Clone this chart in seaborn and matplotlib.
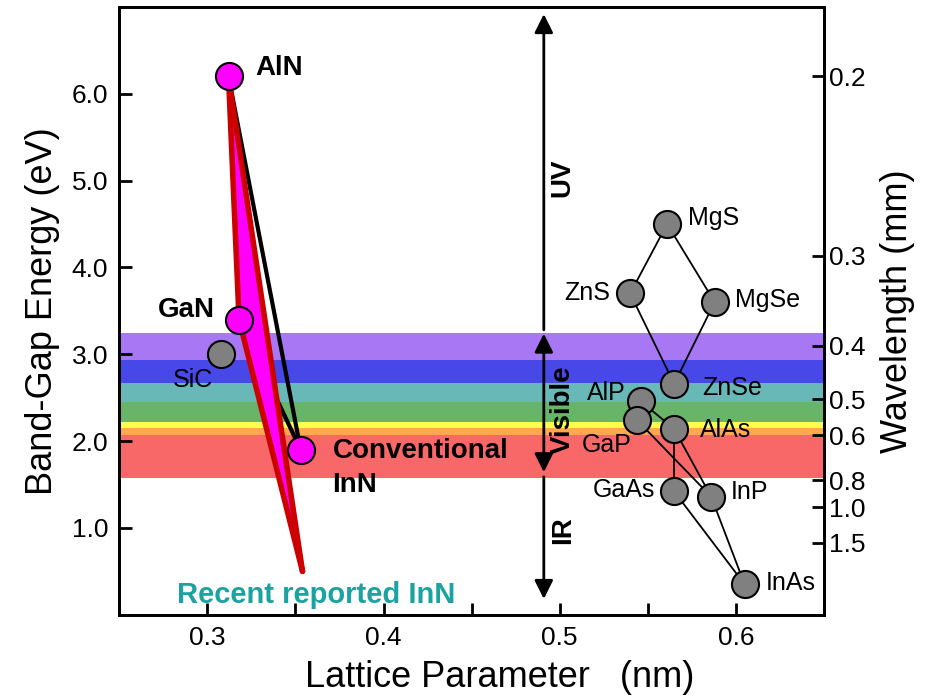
import numpy as np
import pandas as pd
import matplotlib
matplotlib.use("Agg")
import matplotlib.pyplot as plt
import seaborn as sns

sns.set_style("ticks")
plt.rcParams['font.family'] = ['Liberation Sans', 'DejaVu Sans']
plt.rcParams.update({"text.color": "black", "axes.labelcolor": "black",
                     "xtick.color": "black", "ytick.color": "black",
                     "axes.edgecolor": "black"})

# compounds: lattice parameter (nm) and band gap (eV)
names = ["AlN", "GaN", "InN", "SiC", "MgS", "ZnS", "MgSe", "ZnSe",
         "AlP", "GaP", "AlAs", "GaAs", "InP", "InAs"]
lattice = [0.312, 0.318, 0.353, 0.308, 0.561, 0.540, 0.588, 0.565,
           0.546, 0.544, 0.565, 0.565, 0.586, 0.605]
gap = [6.2, 3.4, 1.9, 3.0, 4.5, 3.7, 3.6, 2.66,
       2.46, 2.24, 2.14, 1.42, 1.36, 0.35]
nitrides = ["AlN", "GaN", "InN"]

# recently reported InN
inn_recent_a = 0.354
inn_recent_eg = 0.5

# alloy tie lines
black_thick = [("AlN", "InN"), ("GaN", "InN")]
thin_edges = [("MgS", "ZnS"), ("MgS", "MgSe"), ("ZnS", "ZnSe"), ("MgSe", "ZnSe"),
              ("AlP", "AlAs"), ("GaP", "InP"), ("AlAs", "InP"), ("AlAs", "GaAs"),
              ("GaAs", "InAs"), ("InP", "InAs")]

# visible spectrum bands (eV)
band_lo = [1.57, 2.07, 2.15, 2.22, 2.45, 2.67, 2.93]
band_hi = [2.07, 2.15, 2.22, 2.45, 2.67, 2.93, 3.25]
band_col = ["#f86868", "#ffa850", "#ffff50", "#68b468", "#68b8b8", "#4848e8", "#a878f4"]

# right axis wavelength ticks (um)
wl_ticks = [0.2, 0.3, 0.4, 0.5, 0.6, 0.8, 1.0, 1.5]

pts = pd.DataFrame({"name": names, "a": lattice, "eg": gap})
pos = {n: (a, e) for n, a, e in zip(names, lattice, gap)}
pos["InN*"] = (inn_recent_a, inn_recent_eg)


def edge_frame(edges):
    rows = []
    for i, (p, q) in enumerate(edges):
        for n in (p, q):
            rows.append({"seg": i, "a": pos[n][0], "eg": pos[n][1]})
    return pd.DataFrame(rows)


fig, ax = plt.subplots(figsize=(9.32, 6.97), dpi=100)
fig.subplots_adjust(left=0.128, right=0.884, top=0.99, bottom=0.118)

for lo, hi, c in zip(band_lo, band_hi, band_col):
    ax.axhspan(lo, hi, color=c, lw=0, zorder=0)

sns.lineplot(data=edge_frame(black_thick), x="a", y="eg", units="seg", estimator=None,
             sort=False, color="black", lw=3, ax=ax, zorder=2)
tri = [pos["AlN"], pos["GaN"], pos["InN*"]]
ax.fill([p[0] for p in tri], [p[1] for p in tri], color="#ff00ff", lw=0, zorder=3)
sns.lineplot(data=edge_frame([("AlN", "GaN"), ("AlN", "InN*"), ("GaN", "InN*")]),
             x="a", y="eg", units="seg", estimator=None, sort=False,
             color="#cc0000", lw=4, ax=ax, zorder=4)
sns.lineplot(data=edge_frame(thin_edges), x="a", y="eg", units="seg", estimator=None,
             sort=False, color="black", lw=1.3, ax=ax, zorder=4)

others = pts[~pts["name"].isin(nitrides)]
sns.scatterplot(data=others, x="a", y="eg", s=380, color="#808080", edgecolor="black",
                linewidth=1.5, ax=ax, zorder=5)
sns.scatterplot(data=pts[pts["name"].isin(nitrides)], x="a", y="eg", s=380,
                color="#ff00ff", edgecolor="black", linewidth=1.5, ax=ax, zorder=6)

# spectral region arrows
xa = 0.491
ax.annotate("", xy=(xa, 6.95), xytext=(xa, 3.25),
            arrowprops=dict(arrowstyle="-|>", color="black", lw=2, mutation_scale=28), zorder=7)
ax.annotate("", xy=(xa, 1.61), xytext=(xa, 3.27),
            arrowprops=dict(arrowstyle="<|-|>", color="black", lw=2, mutation_scale=28), zorder=7)
ax.annotate("", xy=(xa, 0.15), xytext=(xa, 1.62),
            arrowprops=dict(arrowstyle="-|>", color="black", lw=2, mutation_scale=28), zorder=7)
for t, y in [("UV", 5.03), ("Visible", 2.36), ("IR", 0.98)]:
    ax.text(0.5017, y, t, rotation=90, ha="center", va="center",
            fontsize=20, fontweight="bold", zorder=8)

# labels
bold = dict(fontsize=20, fontweight="bold", va="center", zorder=8)
ax.text(0.327, 6.30, "AlN", ha="left", **bold)
ax.text(0.304, 3.51, "GaN", ha="right", **bold)
ax.text(0.371, 1.89, "Conventional", ha="left", **bold)
ax.text(0.371, 1.49, "InN", ha="left", **bold)
ax.text(0.283, 0.23, "Recent reported InN", ha="left", va="center", fontsize=21,
        fontweight="bold", color="#1aa3a0", zorder=8)

small = [("SiC", 0.292, 2.70, "center"), ("MgS", 0.5727, 4.57, "left"),
         ("ZnS", 0.529, 3.70, "right"), ("MgSe", 0.5994, 3.62, "left"),
         ("ZnSe", 0.581, 2.61, "left"), ("AlP", 0.5375, 2.55, "right"),
         ("GaP", 0.5125, 1.95, "left"), ("AlAs", 0.5795, 2.13, "left"),
         ("GaAs", 0.554, 1.44, "right"), ("InP", 0.597, 1.41, "left"),
         ("InAs", 0.617, 0.37, "left")]
for t, x, y, ha in small:
    ax.text(x, y, t, ha=ha, va="center", fontsize=18, color="black", zorder=8)

ax.set_xlim(0.25, 0.65)
ax.set_ylim(0, 7)
ax.set_xticks([0.3, 0.4, 0.5, 0.6])
ax.set_xticks([0.35, 0.45, 0.55], minor=True)
ax.set_xticklabels(["0.3", "0.4", "0.5", "0.6"])
ax.set_yticks([1, 2, 3, 4, 5, 6])
ax.set_yticklabels(["1.0", "2.0", "3.0", "4.0", "5.0", "6.0"])
ax.tick_params(which="both", direction="in", length=9, width=2, labelsize=19, pad=8)
ax.set_xlabel("Lattice Parameter   (nm)", fontsize=26, labelpad=6)
ax.xaxis.set_label_coords(0.54, -0.075)
ax.set_ylabel("Band-Gap Energy (eV)", fontsize=26, labelpad=8)
for s in ax.spines.values():
    s.set_linewidth(2)

ax2 = ax.twinx()
ax2.set_ylim(0, 7)
ax2.set_yticks([1.24 / w for w in wl_ticks])
ax2.set_yticklabels([f"{w:.1f}" for w in wl_ticks])
ax2.tick_params(direction="in", length=9, width=2, labelsize=19, pad=4)
ax2.set_ylabel("Wavelength (mm)", fontsize=26, labelpad=10)
for s in ax2.spines.values():
    s.set_linewidth(2)

fig.savefig("out.png", dpi=100)
